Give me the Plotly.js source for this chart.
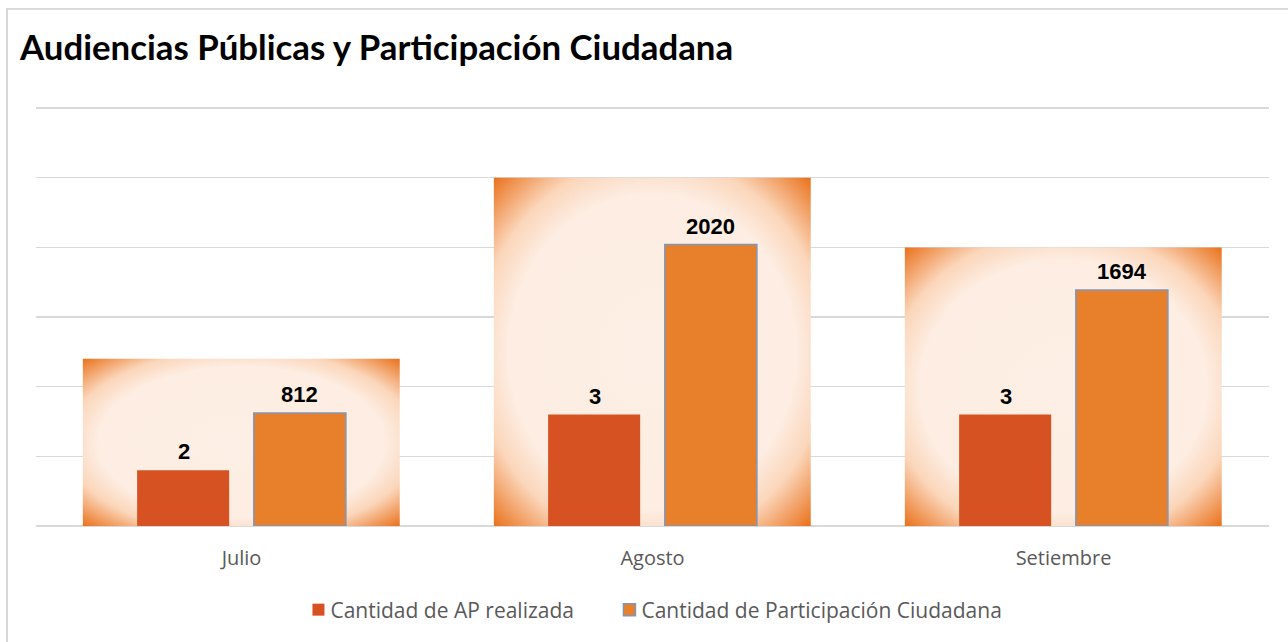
<!DOCTYPE html>
<html>
<head>
<meta charset="utf-8">
<script src="https://cdn.plot.ly/plotly-3.0.1.min.js"></script>
<style>
  html, body { margin: 0; padding: 0; background: #ffffff; overflow: hidden; }
  #frame { position: absolute; left: 6px; top: 8px; width: 1400px; height: 800px;
           border-left: 2px solid #d9d9d9; border-top: 2px solid #d9d9d9; }
  #chart { position: absolute; left: 0; top: 0; width: 1288px; height: 642px; }
</style>
</head>
<body>
<div id="frame"></div>
<div id="chart"></div>
<script>
const months = ["Julio", "Agosto", "Setiembre"];
const apRealizada = [2, 3, 3];
const participacion = [812, 2020, 1694];
const backdrop = [1200, 2500, 2000];

const labelFont = { family: "Liberation Sans, Arial, sans-serif", size: 22, color: "#000000", weight: "bold" };

const traces = [
  {
    type: "bar", x: months, y: backdrop, yaxis: "y",
    width: 0.771, offset: -0.386,
    marker: { color: "#fdeee3" },
    showlegend: false, hoverinfo: "skip"
  },
  {
    type: "bar", name: "Cantidad de Participación Ciudadana",
    x: months, y: participacion, yaxis: "y",
    width: 0.224, offset: 0.030,
    marker: { color: "#e8802b", line: { color: "#7f96bb", width: 1.5 } },
    legendrank: 2
  },
  {
    type: "bar", name: "Cantidad de AP realizada",
    x: months, y: apRealizada, yaxis: "y2",
    width: 0.224, offset: -0.254,
    marker: { color: "#d65222" },
    legendrank: 1
  }
];

const annotations = [];
months.forEach(function (m, i) {
  annotations.push({
    x: m, y: apRealizada[i], xref: "x", yref: "y2",
    text: String(apRealizada[i]), showarrow: false,
    xanchor: "center", yanchor: "bottom", xshift: -58, yshift: 4,
    font: labelFont
  });
  annotations.push({
    x: m, y: participacion[i], xref: "x", yref: "y",
    text: String(participacion[i]), showarrow: false,
    xanchor: "center", yanchor: "bottom", xshift: 58, yshift: 4,
    font: labelFont
  });
});

const layout = {
  width: 1288, height: 642,
  paper_bgcolor: "rgba(0,0,0,0)", plot_bgcolor: "rgba(0,0,0,0)",
  margin: { l: 36, r: 19, t: 106, b: 114 },
  barmode: "overlay",
  title: {
    text: "Audiencias Públicas y Participación Ciudadana",
    x: 20 / 1288, xref: "container", xanchor: "left",
    y: 1 - 48 / 642, yref: "container", yanchor: "middle",
    font: { family: "Lato, Carlito, sans-serif", size: 34.8, color: "#000000", weight: "bold" }
  },
  annotations: annotations,
  xaxis: {
    type: "category",
    tickfont: { family: "Open Sans, sans-serif", size: 20, color: "#595959" },
    ticks: "outside", ticklen: 14, tickcolor: "rgba(0,0,0,0)",
    showline: false, showgrid: false, zeroline: false
  },
  yaxis: {
    range: [0, 3015], tick0: 0, dtick: 500,
    showticklabels: false, ticks: "",
    showgrid: true, gridcolor: "#d9d9d9", gridwidth: 1.3,
    zeroline: true, zerolinecolor: "#d9d9d9", zerolinewidth: 1.5
  },
  yaxis2: {
    overlaying: "y", side: "right",
    range: [1, 8.536],
    showticklabels: false, showgrid: false, zeroline: false, ticks: ""
  },
  showlegend: true,
  legend: {
    orientation: "h", x: 0.4586, xanchor: "center", y: -0.2, yanchor: "middle",
    entrywidth: 266,
    font: { family: "Open Sans, sans-serif", size: 21, color: "#595959" },
    itemclick: false, itemdoubleclick: false
  }
};

Plotly.newPlot("chart", traces, layout, { displayModeBar: false, staticPlot: true }).then(function (gd) {
  const svg = gd.querySelector("svg.main-svg");
  const ns = "http://www.w3.org/2000/svg";
  let defs = svg.querySelector("defs");
  if (!defs) { defs = document.createElementNS(ns, "defs"); svg.insertBefore(defs, svg.firstChild); }
  const grad = document.createElementNS(ns, "radialGradient");
  grad.setAttribute("id", "backdropGrad");
  grad.setAttribute("cx", "0.5"); grad.setAttribute("cy", "0.5"); grad.setAttribute("r", "0.71");
  [["0", "#fdefe5"], ["0.64", "#fdede2"], ["0.78", "#fbd6ba"], ["1", "#e96f18"]].forEach(function (s) {
    const st = document.createElementNS(ns, "stop");
    st.setAttribute("offset", s[0]); st.setAttribute("stop-color", s[1]);
    grad.appendChild(st);
  });
  defs.appendChild(grad);
  const tr = gd.querySelector(".subplot.xy .barlayer .trace");
  if (tr) tr.querySelectorAll("path").forEach(function (p) { p.style.fill = "url(#backdropGrad)"; });
  gd.querySelectorAll(".legend .legendpoints").forEach(function (g) {
    g.setAttribute("transform", "translate(8,0)");
  });
  gd.querySelectorAll(".legend [clip-path]").forEach(function (el) { el.removeAttribute("clip-path"); });
});
</script>
</body>
</html>
